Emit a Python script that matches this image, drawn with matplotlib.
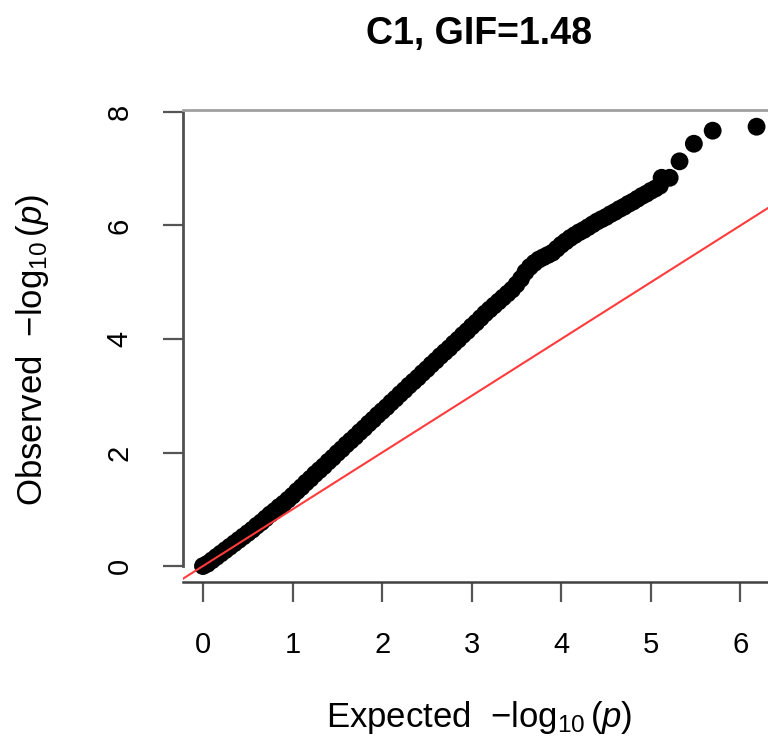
import matplotlib
matplotlib.use('Agg')
import matplotlib.pyplot as plt

plt.rcParams['font.family'] = ['Liberation Sans', 'DejaVu Sans']
plt.rcParams['mathtext.fontset'] = 'custom'
plt.rcParams['mathtext.rm'] = 'Liberation Sans'
plt.rcParams['mathtext.it'] = 'Liberation Sans:italic'

# expected / observed -log10(p)
expected = [0.00, 0.05, 0.10, 0.15, 0.20, 0.25, 0.30, 0.35, 0.40, 0.45,
            0.50, 0.55, 0.60, 0.65, 0.70, 0.75, 0.80, 0.85, 0.90, 0.95,
            1.00, 1.05, 1.10, 1.15, 1.20, 1.25, 1.30, 1.35, 1.40, 1.45,
            1.50, 1.55, 1.60, 1.65, 1.70, 1.75, 1.80, 1.85, 1.90, 1.95,
            2.00, 2.05, 2.10, 2.15, 2.20, 2.25, 2.30, 2.35, 2.40, 2.45,
            2.50, 2.55, 2.60, 2.65, 2.70, 2.75, 2.80, 2.85, 2.90, 2.95,
            3.00, 3.05, 3.10, 3.15, 3.20, 3.25, 3.30, 3.35, 3.40, 3.45,
            3.50, 3.55, 3.60, 3.65, 3.70, 3.75, 3.80, 3.85, 3.90, 3.95,
            4.00, 4.05, 4.10, 4.15, 4.20, 4.25, 4.30, 4.35, 4.40, 4.45,
            4.50, 4.55, 4.60, 4.65, 4.70, 4.75, 4.80, 4.85, 4.90, 4.95,
            5.00, 5.05, 5.10, 5.12, 5.21, 5.32, 5.48, 5.69, 6.18]
observed = [0.00, 0.04, 0.10, 0.16, 0.22, 0.28, 0.34, 0.40, 0.46, 0.52,
            0.58, 0.64, 0.71, 0.77, 0.84, 0.91, 0.97, 1.04, 1.10, 1.17,
            1.24, 1.32, 1.39, 1.47, 1.54, 1.62, 1.69, 1.76, 1.84, 1.91,
            1.99, 2.06, 2.14, 2.21, 2.28, 2.36, 2.43, 2.51, 2.58, 2.66,
            2.73, 2.80, 2.88, 2.95, 3.03, 3.10, 3.18, 3.25, 3.32, 3.40,
            3.47, 3.55, 3.62, 3.70, 3.77, 3.84, 3.92, 3.99, 4.07, 4.14,
            4.22, 4.29, 4.37, 4.45, 4.52, 4.59, 4.66, 4.73, 4.80, 4.87,
            4.96, 5.06, 5.18, 5.27, 5.34, 5.40, 5.44, 5.48, 5.52, 5.59,
            5.66, 5.72, 5.78, 5.83, 5.88, 5.92, 5.97, 6.02, 6.07, 6.11,
            6.15, 6.20, 6.24, 6.29, 6.33, 6.38, 6.42, 6.47, 6.52, 6.56,
            6.61, 6.65, 6.70, 6.84, 6.84, 7.13, 7.44, 7.67, 7.74]
x_ticks = [0, 1, 2, 3, 4, 5, 6]
y_ticks = [0, 2, 4, 6, 8]
title = 'C1, GIF=1.48'

fig = plt.figure(figsize=(7.68, 7.39), dpi=100)
ax = fig.add_axes([0.2383, 0.2124, 0.7958, 0.6388])

ax.scatter(expected, observed, s=165, c='black', edgecolors='none', zorder=2)
ax.axline((0, 0), slope=1, color='#ff3b3b', linewidth=1.5, zorder=3)

ax.set_xlim(-0.223, 6.6)
ax.set_ylim(-0.282, 8.035)
ax.set_xticks(x_ticks)
ax.set_yticks(y_ticks)
ax.tick_params(axis='both', length=14.5, width=1.6, color='#555555',
               labelsize=21, pad=21)
for lab in ax.get_yticklabels():
    lab.set_rotation(90)
    lab.set_va('center')

ax.spines['right'].set_visible(False)
ax.spines['top'].set_color('#a0a0a0')
ax.spines['top'].set_linewidth(2.0)
ax.spines['left'].set_color('#505050')
ax.spines['left'].set_linewidth(2.0)
ax.spines['left'].set_bounds(0, 8)
ax.spines['bottom'].set_color('#404040')
ax.spines['bottom'].set_linewidth(1.8)

fig.text(479 / 768, 1 - 34 / 739, title, ha='center', va='center',
         fontsize=27, fontweight='bold')
fig.text(479 / 768, 1 - 717 / 739, r'Expected  $-\log_{10}(p)$',
         ha='center', va='center', fontsize=25)
fig.text(33 / 768, 1 - 350 / 739, r'Observed  $-\log_{10}(p)$',
         ha='center', va='center', fontsize=25, rotation=90)

plt.savefig('out.png', dpi=100)
plt.close()
